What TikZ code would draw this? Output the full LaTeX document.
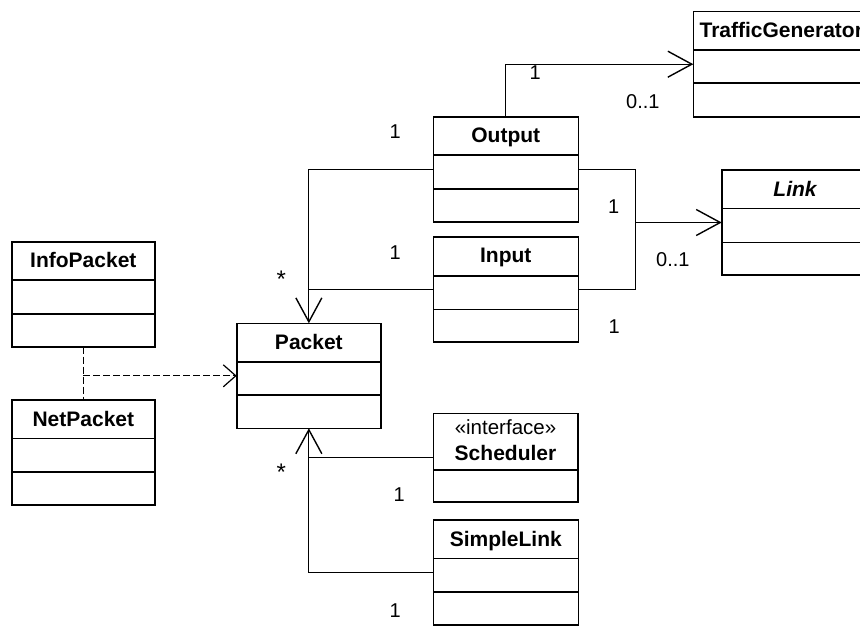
\documentclass[tikz,border=0pt]{standalone}
\usepackage{fontspec}
\setmainfont{Liberation Sans}
\usetikzlibrary{arrows.meta}
\tikzset{
  cls/.style={draw, line width=1.6pt, minimum height=105pt, anchor=north west, inner sep=0pt, outer sep=0pt},
  divider/.style={line width=1.6pt},
  ctitle/.style={anchor=base, inner sep=0pt, font=\fontsize{21pt}{25pt}\selectfont\bfseries},
  stereo/.style={anchor=base, inner sep=0pt, font=\fontsize{20.5pt}{24pt}\selectfont},
  mult/.style={anchor=base west, inner sep=0pt, font=\fontsize{20pt}{24pt}\selectfont},
  star/.style={anchor=base west, inner sep=0pt, font=\fontsize{24pt}{28pt}\selectfont},
  conn/.style={line width=1pt},
  bigbarb/.style={-{Straight Barb[length=24pt,width=26pt,line width=1.4pt]}},
  smallbarb/.style={-{Straight Barb[length=12.5pt,width=22pt,line width=1.2pt]}},
  dashline/.style={line width=1pt, dash pattern=on 7pt off 3pt},
}
\newcommand{\umlclass}[6]{% name, x, y, width, title, dividers list
  \node[cls, minimum width=#4pt] (#1) at (#2,#3) {};
  \foreach \dd in {#6} {
    \draw[divider] ([yshift=-\dd pt]#1.north west) -- ([yshift=-\dd pt]#1.north east);
  }
  \node[ctitle] (#1-t) at ([yshift=-26pt]#1.north) {#5};
}
\begin{document}
\begin{tikzpicture}[x=1pt, y=-1pt]
\useasboundingbox (0,0) rectangle (860,626);

% classes
\umlclass{tg}{693.3}{11.7}{176}{TrafficGenerator}{38.3,71.6}
\umlclass{output}{433.3}{116.7}{145}{Output}{38.3,72.3}
\umlclass{input}{433.3}{236.7}{145}{Input}{39.3,72.6}
\umlclass{link}{721.7}{170}{146.7}{\itshape Link}{38.3,72.3}
\umlclass{infopacket}{11.7}{241.7}{143.3}{InfoPacket}{38.3,72.3}
\umlclass{netpacket}{11.7}{400}{143.3}{NetPacket}{38.3,71.7}
\umlclass{packet}{236.7}{323.3}{144.3}{Packet}{38.4,71.7}
\umlclass{simplelink}{433.3}{520}{145}{SimpleLink}{38.3,71.7}

% Scheduler (stereotyped, one compartment)
\node[cls, minimum width=144.4pt, minimum height=88.4pt] (scheduler) at (433.3,413.3) {};
\draw[divider] ([yshift=-56.7pt]scheduler.north west) -- ([yshift=-56.7pt]scheduler.north east);
\node[stereo] (scheduler-s) at ([yshift=-21.4pt]scheduler.north) {«interface»};
\node[ctitle] (scheduler-t) at ([yshift=-46.7pt]scheduler.north) {Scheduler};

% Output -> TrafficGenerator
\draw[conn, bigbarb] (output.north) |- (tg.west);
\node[mult] (m1) at (529.5,80) {1};
\node[mult] (m2) at (626,108.3) {0..1};

% Output / Input -> Link
\path (link.west) ++(-86,0) coordinate (lj);
\draw[conn] (output.east) -| (lj);
\draw[conn] (input.east) -| (lj);
\draw[conn, bigbarb] (lj) -- (link.west);
\node[mult] (m3) at (608,213.3) {1};
\node[mult] (m4) at (656,266.7) {0..1};
\node[mult] (m5) at (608.5,333.3) {1};

% Output / Input -> Packet
\draw[conn, bigbarb] (output.west) -| (packet.north);
\draw[conn] (input.west) -- (input.west -| packet.north);
\node[mult] (m6) at (389.5,139) {1};
\node[mult] (m7) at (389.5,259.3) {1};
\node[star] (m8) at (276.5,287) {*};

% Scheduler / SimpleLink -> Packet
\draw[conn, bigbarb] (simplelink.west) -| (packet.south);
\draw[conn] (scheduler.west) -- (scheduler.west -| packet.south);
\node[star] (m9) at (276.5,480.5) {*};
\node[mult] (m10) at (393.5,501.7) {1};
\node[mult] (m11) at (389.5,617.3) {1};

% InfoPacket / NetPacket dependency
\draw[dashline] (infopacket.south) -- (netpacket.north);
\draw[dashline, smallbarb] (infopacket.south |- packet.west) -- (packet.west);
\end{tikzpicture}
\end{document}
